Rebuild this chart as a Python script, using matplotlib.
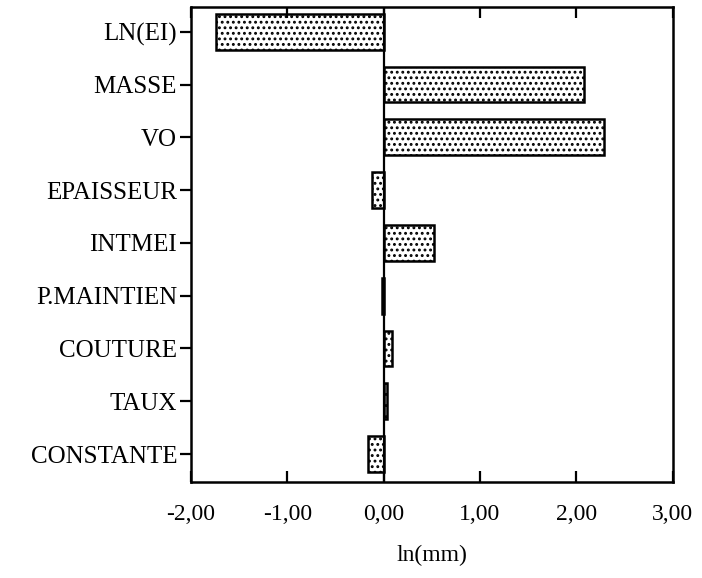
import matplotlib
matplotlib.use("Agg")
import matplotlib.pyplot as plt
from matplotlib.ticker import FuncFormatter

# Coefficients (top to bottom).
categories = ["LN(EI)", "MASSE", "VO", "EPAISSEUR", "INTMEI",
              "P.MAINTIEN", "COUTURE", "TAUX", "CONSTANTE"]
values = [-1.74, 2.08, 2.29, -0.12, 0.52, -0.02, 0.09, 0.04, -0.16]
x_ticks = [-2, -1, 0, 1, 2, 3]

plt.rcParams["font.family"] = ["Liberation Serif", "DejaVu Serif"]
plt.rcParams["hatch.linewidth"] = 1.3

fig = plt.figure(figsize=(7.02, 5.78), dpi=100)
ax = fig.add_axes([0.272, 0.166, 0.686, 0.822])

pos = list(range(len(categories)))
ax.barh(pos, values, height=0.68, color="white", edgecolor="black",
        linewidth=1.8, hatch="...")
ax.axvline(0, color="black", linewidth=1.6)

ax.set_xlim(-2, 3)
ax.set_ylim(len(categories) - 1 + 0.53, -0.47)

ax.set_yticks(pos)
ax.set_yticklabels(categories)
ax.set_xticks(x_ticks)
ax.xaxis.set_major_formatter(
    FuncFormatter(lambda v, _: f"{v:.2f}".replace(".", ",")))

ax.tick_params(axis="y", direction="out", length=8, width=1.6,
               labelsize=18, pad=2)
ax.tick_params(axis="x", direction="in", length=8, width=1.6,
               labelsize=17, pad=16, top=True)

for side in ax.spines.values():
    side.set_linewidth(1.8)

ax.set_xlabel("ln(mm)", fontsize=17, labelpad=14)

fig.savefig("out.png", dpi=100)
